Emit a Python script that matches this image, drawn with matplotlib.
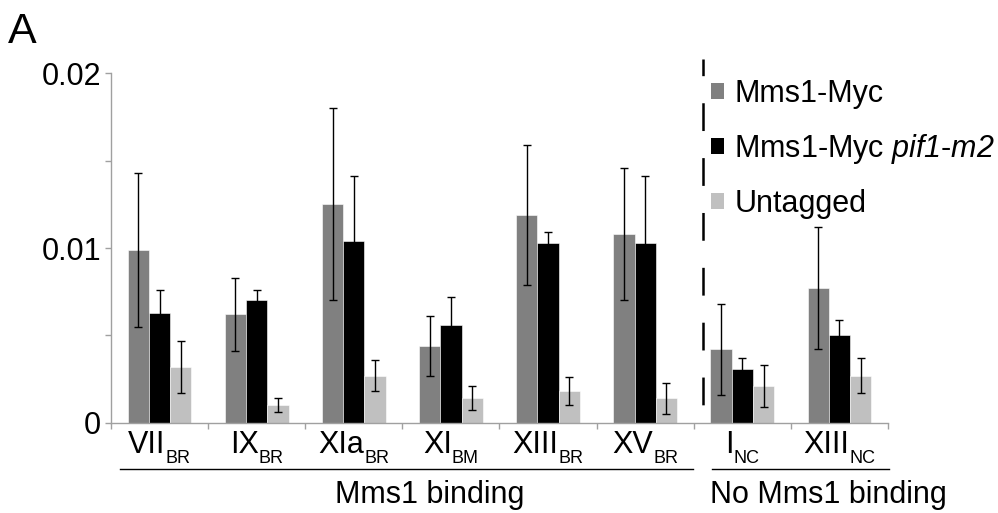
import matplotlib
matplotlib.use("Agg")
import matplotlib.pyplot as plt
import matplotlib.transforms as mtransforms
from matplotlib.patches import Patch
from matplotlib.lines import Line2D
import numpy as np

plt.rcParams['font.family'] = ['Liberation Sans', 'DejaVu Sans']
# mathtext only used for the italic gene name in the legend
plt.rcParams['mathtext.fontset'] = 'custom'
plt.rcParams['mathtext.rm'] = 'Liberation Sans:italic'
plt.rcParams['mathtext.it'] = 'Liberation Sans:italic'
plt.rcParams['lines.scale_dashes'] = False

# ================= DATA =================
site_names = ["VII", "IX", "XIa", "XI", "XIII", "XV", "I", "XIII"]
site_subs = ["BR", "BR", "BR", "BM", "BR", "BR", "NC", "NC"]

mms1_myc = [0.0099, 0.0062, 0.0125, 0.0044, 0.0119, 0.0108, 0.0042, 0.0077]
mms1_myc_err = [0.0044, 0.0021, 0.0055, 0.0017, 0.0040, 0.0038, 0.0026, 0.0035]

mms1_pif1 = [0.0063, 0.0070, 0.0104, 0.0056, 0.0103, 0.0103, 0.0031, 0.0050]
mms1_pif1_err = [0.0013, 0.0006, 0.0037, 0.0016, 0.0006, 0.0038, 0.0006, 0.0009]

untagged = [0.0032, 0.0010, 0.0027, 0.0014, 0.0018, 0.0014, 0.0021, 0.0027]
untagged_err = [0.0015, 0.0004, 0.0009, 0.0007, 0.0008, 0.0009, 0.0012, 0.0010]

series_labels = ["Mms1-Myc", r"Mms1-Myc $\mathrm{pif1}$-$\mathrm{m2}$", "Untagged"]
series_colors = ["#808080", "#000000", "#c0c0c0"]

group_labels = ["Mms1 binding", "No Mms1 binding"]

FS = 22

# ================= PLOT =================
fig = plt.figure(figsize=(9.98, 5.13), dpi=100)
ax = fig.add_axes([0.1112, 0.176, 0.7786, 0.681])

x = np.arange(len(site_names))
w = 0.219
axis_grey = "#a0a0a0"

series = [(mms1_myc, mms1_myc_err), (mms1_pif1, mms1_pif1_err), (untagged, untagged_err)]
for k, (vals, errs) in enumerate(series):
    ax.bar(x + (k - 1) * w, vals, width=w, color=series_colors[k],
           edgecolor="white", linewidth=0.4, zorder=2)
    ax.errorbar(x + (k - 1) * w, vals, yerr=errs, fmt="none", ecolor="black",
                elinewidth=1.0, capsize=2.6, capthick=1.0, zorder=3)

ax.set_xlim(-0.5, len(site_names) - 0.5)
ax.set_ylim(0, 0.02)

for s in ["top", "right"]:
    ax.spines[s].set_visible(False)
for s in ["left", "bottom"]:
    ax.spines[s].set_color(axis_grey)
    ax.spines[s].set_linewidth(1.0)

ax.set_yticks([0, 0.01, 0.02])
ax.set_yticklabels(["0", "0.01", "0.02"])
ax.set_yticks([0.005, 0.015], minor=True)
ax.set_xticks(np.arange(-0.5, len(site_names)))
ax.set_xticklabels([])
ax.tick_params(axis="both", which="both", direction="out", length=4,
               width=1.0, color=axis_grey, labelsize=FS, pad=3)

# dashed divider between binding / no binding groups
trans = mtransforms.blended_transform_factory(ax.transData, ax.transAxes)
ax.plot([5.6, 5.6], [1.04, 0.0], transform=trans,
        color="black", linewidth=1.8, linestyle=(8, (20, 19.5)), clip_on=False, zorder=4)

# category labels with subscripts
fig.canvas.draw()
renderer = fig.canvas.get_renderer()
gap = 0
for i, (main, sub) in enumerate(zip(site_names, site_subs)):
    t1 = ax.text(i, -0.0867, main, transform=trans, ha="left", va="baseline", fontsize=FS)
    t2 = ax.text(i, -0.1153, sub, transform=trans, ha="left", va="baseline", fontsize=13)
    w1 = t1.get_window_extent(renderer).width
    w2 = t2.get_window_extent(renderer).width
    total = w1 + w2 + gap
    t1.set_transform(mtransforms.offset_copy(trans, fig, x=-total / 2, units="dots"))
    t2.set_transform(mtransforms.offset_copy(trans, fig, x=-total / 2 + w1 + gap, units="dots"))

# group brackets
for x0, x1 in [(0.0116, 0.749), (0.7735, 1.0013)]:
    ax.add_line(Line2D([x0, x1], [-0.1325, -0.1325], transform=ax.transAxes,
                       color="black", linewidth=1.0, clip_on=False))
ax.text(0.41, -0.23, group_labels[0], transform=ax.transAxes, ha="center",
        va="baseline", fontsize=FS)
ax.text(0.9234, -0.23, group_labels[1], transform=ax.transAxes, ha="center",
        va="baseline", fontsize=FS)

# legend
handles = [Patch(facecolor=c, edgecolor="none") for c in series_colors]
ax.legend(handles, series_labels, loc="upper left", bbox_to_anchor=(0.772, 0.985),
          frameon=False, fontsize=FS, handlelength=0.42, handleheight=0.42,
          handletextpad=0.35, labelspacing=0.76, borderpad=0, borderaxespad=0)

# panel letter
fig.text(0.008, 0.916, "A", fontsize=31, ha="left", va="baseline")

fig.savefig("out.png", dpi=100)
